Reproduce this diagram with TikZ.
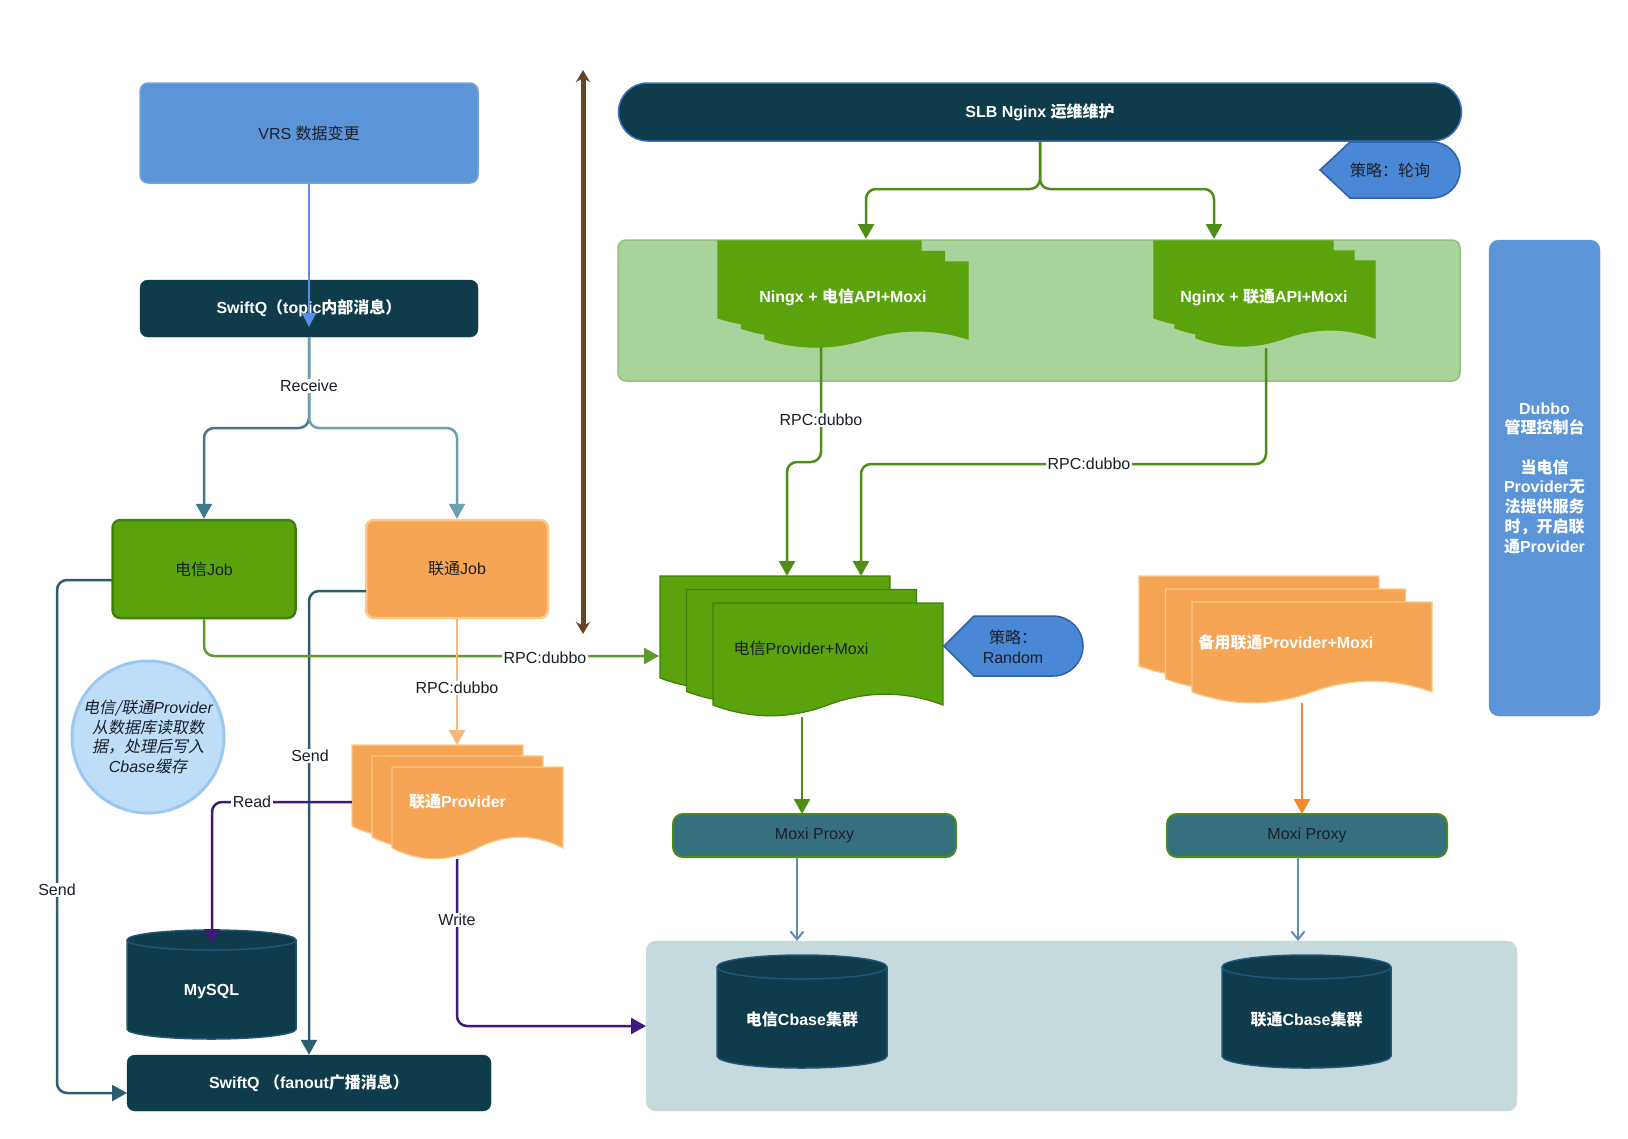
\documentclass[tikz,border=0pt]{standalone}
\usepackage{fontspec}
\setmainfont{Liberation Sans}
\newfontfamily\cjk{Noto Sans CJK SC}
\newfontfamily\cjkit{Noto Sans CJK SC}[FakeSlant=0.2]
\usetikzlibrary{arrows.meta,calc}
\newcommand\zh[1]{{\cjk #1}}
\newcommand\zhi[1]{{\cjkit #1}}
\newcommand\fs{\fontsize{16}{19.7}\selectfont}
\definecolor{vrsblue}{HTML}{5B95D7}
\definecolor{dteal}{HTML}{0F3C4B}
\definecolor{tealL}{HTML}{3E7A8D}
\definecolor{tealR}{HTML}{6C9FB2}
\definecolor{gfill}{HTML}{5AA30D}
\definecolor{gborder}{HTML}{3F800C}
\definecolor{lgreen}{HTML}{A9D39A}
\definecolor{lgreenB}{HTML}{8FC47C}
\definecolor{ofill}{HTML}{F6A554}
\definecolor{oborder}{HTML}{F9CB8C}
\definecolor{moxiF}{HTML}{36707F}
\definecolor{moxiB}{HTML}{4A8A1A}
\definecolor{cbg}{HTML}{C6DADE}
\definecolor{cylB}{HTML}{1F5679}
\definecolor{dispF}{HTML}{4A87D5}
\definecolor{dispB}{HTML}{2D60A8}
\definecolor{circF}{HTML}{BEDDF8}
\definecolor{circB}{HTML}{9BC8F2}
\definecolor{purp}{HTML}{3E1B7A}
\definecolor{brn}{HTML}{6B4424}
\definecolor{gline}{HTML}{4E8D16}
\definecolor{gline2}{HTML}{5E9A2C}
\definecolor{oline}{HTML}{F7B77A}
\definecolor{oline2}{HTML}{F08A2E}
\definecolor{steel}{HTML}{5D8FB3}
\definecolor{sendc}{HTML}{2C5E6E}
\definecolor{txtd}{HTML}{1A1F2A}
\definecolor{blueln}{HTML}{5A8DE8}
\definecolor{slbB}{HTML}{3A6FC0}
% document shape: x y w h wave fill draw
\newcommand\docshape[7]{%
 \pgfmathsetmacro\dsR{#1+#3}%
 \pgfmathsetmacro\dsE{#2+#4-0.5*#5}%
 \pgfmathsetmacro\dsU{#2+#4-1.1*#5}%
 \pgfmathsetmacro\dsD{#2+#4+0.1*#5}%
 \pgfmathsetmacro\dsA{#1+5*#3/6}%
 \pgfmathsetmacro\dsB{#1+2*#3/3}%
 \pgfmathsetmacro\dsM{#1+#3/2}%
 \pgfmathsetmacro\dsC{#1+#3/3}%
 \pgfmathsetmacro\dsF{#1+#3/6}%
 \filldraw[fill=#6,draw=#7,line width=1.2pt] (#1,#2) -- (\dsR,#2) -- (\dsR,\dsE) .. controls (\dsA,\dsU) and (\dsB,\dsU) .. (\dsM,\dsE) .. controls (\dsC,\dsD) and (\dsF,\dsD) .. (#1,\dsE) -- cycle;}
\newcommand\docstack[9]{%
 \docshape{#1}{#2}{#3}{#4}{#5}{#8}{#9}%
 \pgfmathsetmacro\dsXa{#1+#6}\pgfmathsetmacro\dsYa{#2+#7}%
 \docshape{\dsXa}{\dsYa}{#3}{#4}{#5}{#8}{#9}%
 \pgfmathsetmacro\dsXb{#1+2*#6}\pgfmathsetmacro\dsYb{#2+2*#7}%
 \docshape{\dsXb}{\dsYb}{#3}{#4}{#5}{#8}{#9}}
% cylinder: x0 y0 w h ry
\newcommand\cyl[5]{%
 \pgfmathsetmacro\cyR{#1+#3}\pgfmathsetmacro\cyC{#1+#3/2}%
 \pgfmathsetmacro\cyT{#2+#5}\pgfmathsetmacro\cyB{#2+#4-#5}%
 \pgfmathsetmacro\cyKx{0.5523*#3/2}\pgfmathsetmacro\cyKy{0.5523*#5}%
 \pgfmathsetmacro\cyCl{\cyC-\cyKx}\pgfmathsetmacro\cyCr{\cyC+\cyKx}%
 \pgfmathsetmacro\cyTb{\cyT+\cyKy}\pgfmathsetmacro\cyTt{\cyT-\cyKy}%
 \pgfmathsetmacro\cyBb{\cyB+\cyKy}%
 \pgfmathsetmacro\cyTop{#2}\pgfmathsetmacro\cyBot{#2+#4}\pgfmathsetmacro\cyMid{\cyT+#5}%
 \filldraw[fill=dteal,draw=cylB,line width=1.5pt] (#1,\cyT) -- (#1,\cyB) .. controls (#1,\cyBb) and (\cyCl,\cyBot) .. (\cyC,\cyBot) .. controls (\cyCr,\cyBot) and (\cyR,\cyBb) .. (\cyR,\cyB) -- (\cyR,\cyT) .. controls (\cyR,\cyTt) and (\cyCr,\cyTop) .. (\cyC,\cyTop) .. controls (\cyCl,\cyTop) and (#1,\cyTt) .. (#1,\cyT) -- cycle;
 \draw[cylB,line width=1.5pt] (#1,\cyT) .. controls (#1,\cyTb) and (\cyCl,\cyMid) .. (\cyC,\cyMid) .. controls (\cyCr,\cyMid) and (\cyR,\cyTb) .. (\cyR,\cyT);}
\tikzset{
 box/.style={rounded corners=8pt, inner sep=0pt, align=center, font=\fs},
 lbl/.style={fill=white, inner sep=1.5pt, font=\fs, text=txtd},
 conn/.style={line width=2.5pt, rounded corners=10pt},
 tri/.style={-{Triangle[length=15pt,width=16pt]}},
 smtri/.style={-{Triangle[length=14pt,width=14pt]}},
 barb/.style={-{Straight Barb[length=8pt,width=13pt]}},
 wtext/.style={font=\fs\bfseries, text=white, align=center},
 dtext/.style={font=\fs, text=txtd, align=center}
}
\begin{document}
\begin{tikzpicture}[x=1pt,y=-1pt]
\useasboundingbox (0,0) rectangle (1628,1138);
\fill[white] (0,0) rectangle (1628,1138);

% ---- background zones ----
\node[fill=lgreen, draw=lgreenB, line width=1.5pt, rounded corners=8pt, minimum width=842pt, minimum height=141pt, inner sep=0pt] (apizone) at (1039,310.5) {};
\node[fill=cbg, draw=cbg, rounded corners=10pt, minimum width=871pt, minimum height=170pt, inner sep=0pt] (cbz) at (1081.5,1026) {};

% ---- left column ----
\node[box, fill=vrsblue, draw=vrsblue!85!white, line width=1.5pt, minimum width=338pt, minimum height=100pt, text=txtd] (vrs) at (309,133) {VRS \zh{数据变更}};
\node[box, fill=dteal, draw=dteal, minimum width=338pt, minimum height=57pt, font=\fs\bfseries, text=white] (swq) at (309,308.5) {SwiftQ\zh{（}topic\zh{内部消息）}};
\node[box, fill=gfill, draw=gborder, line width=2.5pt, minimum width=183pt, minimum height=98pt, text=txtd] (tjob) at (204,569) {\zh{电信}Job};
\node[box, fill=ofill, draw=oborder, line width=2.5pt, minimum width=182pt, minimum height=98pt, text=txtd] (ujob) at (457,569) {\zh{联通}Job};
\node[circle, fill=circF, draw=circB, line width=3pt, minimum size=152pt, inner sep=0pt, align=center, font=\fs\itshape, text=txtd] (note) at (148,737) {\zhi{电信/联通}Provider\\\zhi{从数据库读取数}\\\zhi{据，处理后写入}\\Cbase\zhi{缓存}};
\node[box, fill=dteal, draw=dteal, minimum width=364pt, minimum height=56pt, font=\fs\bfseries, text=white] (fan) at (309,1083) {SwiftQ \zh{（}fanout\zh{广播消息）}};
\cyl{127}{930}{169}{109}{10}
\node[wtext] (mysql) at (211.5,992) {MySQL};

% ---- 联通Provider stack ----
\docstack{352}{745}{171}{93}{24}{20}{11}{ofill}{oborder}
\node[wtext] (uprov) at (457.5,802) {\zh{联通}Provider};

% ---- top right ----
\node[fill=dteal, draw=slbB, line width=1.5pt, rounded corners=29pt, minimum width=843pt, minimum height=58pt, inner sep=0pt, font=\fs\bfseries, text=white] (slb) at (1040,112) {SLB Nginx \zh{运维维护}};
\filldraw[fill=dispF, draw=dispB, line width=1.5pt] (1320,170) -- (1350,142) -- (1432,142) .. controls (1447.5,142) and (1460,154.5) .. (1460,170) .. controls (1460,185.5) and (1447.5,198) .. (1432,198) -- (1350,198) -- cycle;
\node[dtext] (plc1) at (1390,170) {\zh{策略：轮询}};

\docstack{718}{241}{203}{86}{18}{23.5}{10.5}{gfill}{gfill}
\node[wtext] (apiL) at (843,297) {Ningx + \zh{电信}API+Moxi};
\docstack{1154}{241}{179}{86}{18}{21}{10}{gfill}{gfill}
\node[wtext] (apiR) at (1264,297) {Nginx + \zh{联通}API+Moxi};

\node[fill=vrsblue, draw=vrsblue, rounded corners=10pt, minimum width=111pt, minimum height=476pt, inner sep=0pt, wtext] (dubbo) at (1544.5,478) {Dubbo\\\zh{管理控制台}\\[19.7pt]\zh{当电信}\\Provider\zh{无}\\\zh{法提供服务}\\\zh{时，开启联}\\\zh{通}Provider};

% ---- middle ----
\docstack{660}{576}{230}{114}{24}{26.5}{13.5}{gfill}{gborder}
\node[dtext] (tprov) at (801,648) {\zh{电信}Provider+Moxi};
\filldraw[fill=dispF, draw=dispB, line width=1.5pt] (944,646) -- (974,616) -- (1053,616) .. controls (1069.6,616) and (1083,629.4) .. (1083,646) .. controls (1083,662.6) and (1069.6,676) .. (1053,676) -- (974,676) -- cycle;
\node[dtext] (plc2) at (1013,646.5) {\zh{策略：}\\Random};

\docstack{1139}{576}{240}{102}{24}{26.5}{13}{ofill}{oborder}
\node[wtext] (bprov) at (1286,642) {\zh{备用联通}Provider+Moxi};

\node[box, fill=moxiF, draw=moxiB, line width=2pt, rounded corners=10pt, minimum width=283pt, minimum height=43pt, text=txtd] (moxiL) at (814.5,835.5) {Moxi Proxy};
\node[box, fill=moxiF, draw=moxiB, line width=2pt, rounded corners=10pt, minimum width=280pt, minimum height=43pt, text=txtd] (moxiR) at (1307,835.5) {Moxi Proxy};

\cyl{717}{955}{170}{113}{12}
\node[wtext] (tcb) at (802,1019) {\zh{电信}Cbase\zh{集群}};
\cyl{1222}{955}{169}{113}{12}
\node[wtext] (ucb) at (1306.5,1019) {\zh{联通}Cbase\zh{集群}};

% ---- connection points ----
\coordinate (swqin) at (309,327);
\coordinate (rj) at (309,428);
\coordinate (sj) at (1040,189);
\coordinate (apiLt) at (866,239);
\coordinate (apiRt) at (1214,239);
\coordinate (apiLb) at (821,347);
\coordinate (apiRb) at (1266,348);
\coordinate (tpin1) at (787,576);
\coordinate (tpin2) at (861,576);
\coordinate (tpin3) at (659,656);
\coordinate (upin) at (457,745);
\coordinate (ujs) at (366,591);
\coordinate (tjs) at (112,580);
\coordinate (fin2) at (127,1093);
\coordinate (upr) at (352,802);
\coordinate (myin) at (212,944);
\coordinate (upb) at (457,859);
\coordinate (cbin) at (646,1026);
\coordinate (tpb) at (802,717);
\coordinate (mxLin) at (802,814);
\coordinate (mxLout) at (797,857);
\coordinate (cbL) at (797,941);
\coordinate (bpb) at (1302,703);
\coordinate (mxRin) at (1302,814);
\coordinate (mxRout) at (1298,857);
\coordinate (cbR) at (1298,941);
\coordinate (brT) at (583,70);
\coordinate (brB) at (583,634);

% ---- connectors ----
\draw[blueln, line width=2pt, smtri] (vrs.south) -- (swqin);
\draw[conn, tealL, tri] (swq.south) -- (rj) -| (tjob.north);
\draw[conn, tealR, tri] (swq.south) -- (rj) -| (ujob.north);
\draw[brn, line width=5pt, {Stealth[length=12pt,width=14pt]}-{Stealth[length=12pt,width=14pt]}] (brT) -- (brB);
\draw[conn, gline, tri] (slb.south) -- (sj) -| (apiLt);
\draw[conn, gline, tri] (slb.south) -- (sj) -| (apiRt);
\draw[conn, gline, tri] (apiLb) -- ++(0,115) -| (tpin1);
\draw[conn, gline, tri] (apiRb) -- ++(0,116) -| (tpin2);
\draw[conn, sendc, tri] (ujs) -| (fan.north);
\draw[conn, sendc, tri] (tjs) -- ++(-55,0) |- (fin2);
\draw[conn, gline2, tri] (tjob.south) |- (tpin3);
\draw[conn, oline, tri] (ujob.south) -- (upin);
\draw[conn, purp, tri] (upr) -| (myin);
\draw[conn, purp, tri] (upb) |- (cbin);
\draw[conn, gline, tri] (tpb) -- (mxLin);
\draw[steel, line width=2pt, barb] (mxLout) -- (cbL);
\draw[conn, oline2, tri] (bpb) -- (mxRin);
\draw[steel, line width=2pt, barb] (mxRout) -- (cbR);

% ---- labels ----
\node[lbl] (lrecv) at (309,386) {Receive};
\node[lbl] (lr1) at (821,420) {RPC:dubbo};
\node[lbl] (lr2) at (1089,464) {RPC:dubbo};
\node[lbl] (lr3) at (545,658) {RPC:dubbo};
\node[lbl] (lr4) at (457,688) {RPC:dubbo};
\node[lbl] (ls1) at (310,756) {Send};
\node[lbl] (ls2) at (57,890) {Send};
\node[lbl] (lread) at (252,802) {Read};
\node[lbl] (lwrite) at (457,920) {Write};
\end{tikzpicture}
\end{document}
